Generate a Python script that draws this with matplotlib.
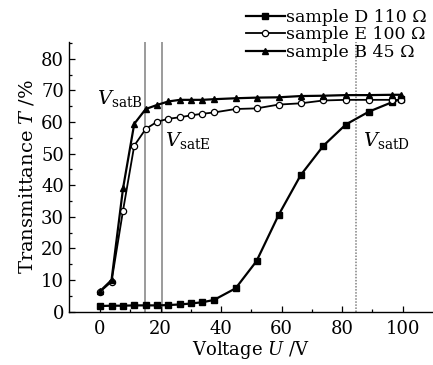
import matplotlib
matplotlib.use("Agg")
import matplotlib.pyplot as plt

plt.rcParams['font.family'] = ['DejaVu Serif']
plt.rcParams['mathtext.fontset'] = 'dejavuserif'

voltage_D = [0, 3.8, 7.6, 11.3, 15.1, 18.9, 22.6, 26.4, 30.1, 33.8, 37.6, 44.8, 51.7, 59.0, 66.3, 73.8, 81.2, 88.9, 96.6, 99.5]
voltage = voltage_D
trans_D = [1.8, 1.9, 1.9, 2.0, 2.0, 2.0, 2.1, 2.3, 2.6, 3.0, 3.7, 7.4, 16.0, 30.6, 43.2, 52.5, 59.2, 63.3, 66.3, 67.3]
trans_E = [6.3, 9.5, 32.0, 52.5, 57.8, 60.1, 61.0, 61.5, 62.1, 62.6, 63.0, 64.1, 64.3, 65.5, 65.9, 66.8, 67.0, 67.0, 67.0, 67.0]
trans_B = [6.5, 10.0, 39.0, 59.4, 64.1, 65.4, 66.5, 67.0, 67.0, 67.0, 67.2, 67.5, 67.7, 67.8, 68.2, 68.3, 68.5, 68.5, 68.6, 68.6]
labels = ['sample D 110 Ω', 'sample E 100 Ω', 'sample B 45 Ω']
vsat_solid = [14.7, 20.6]
vsat_dotted = 84.5

fig = plt.figure(figsize=(4.33, 3.65), dpi=100)
ax = fig.add_axes([0.159, 0.146, 0.841, 0.739])

ax.axvline(vsat_solid[0], color='#808080', lw=1.1, zorder=1)
ax.axvline(vsat_solid[1], color='#808080', lw=1.1, zorder=1)
ax.axvline(vsat_dotted, color='#808080', lw=1.1, ls=(0, (1, 1)), zorder=1)

l1, = ax.plot(voltage, trans_D, '-s', color='black', lw=1.6, ms=4.5, mfc='black', label=labels[0], zorder=3)
l2, = ax.plot(voltage, trans_E, '-o', color='black', lw=1.3, ms=4.5, mfc='white', mew=0.9, label=labels[1], zorder=3)
l3, = ax.plot(voltage, trans_B, '-^', color='black', lw=1.6, ms=4.5, mfc='black', label=labels[2], zorder=3)

ax.set_xlim(-10.3, 110)
ax.set_ylim(0, 85.3)
ax.set_xticks([0, 20, 40, 60, 80, 100])
ax.set_xticks(range(10, 101, 20), minor=True)
ax.set_yticks(range(0, 81, 10))
ax.set_yticks(range(5, 86, 10), minor=True)
ax.tick_params(direction='in', which='both', labelsize=13, width=0.9)
ax.tick_params(axis='x', which='major', pad=6)
ax.tick_params(which='major', length=4)
ax.tick_params(which='minor', length=2.5)
ax.spines['top'].set_visible(False)
ax.spines['right'].set_visible(False)
ax.spines['left'].set_linewidth(1.0)
ax.spines['bottom'].set_linewidth(1.0)

ax.set_xlabel('Voltage $U$ /V', fontsize=13, labelpad=1)
ax.set_ylabel('Transmittance $T$ /%', fontsize=14, labelpad=3)

ax.text(-1, 67.5, r'$V_{\rm satB}$', fontsize=14, va='center', ha='left')
ax.text(21.5, 54, r'$V_{\rm satE}$', fontsize=14, va='center', ha='left')
ax.text(87, 54, r'$V_{\rm satD}$', fontsize=14, va='center', ha='left')

fig.legend(handles=[l1, l2, l3], loc='upper right', bbox_to_anchor=(1.01, 1.005),
           frameon=False, fontsize=12.5, handlelength=2.2, handletextpad=0.1,
           labelspacing=0.05, borderaxespad=0.2)

fig.savefig('out.png', dpi=100)
